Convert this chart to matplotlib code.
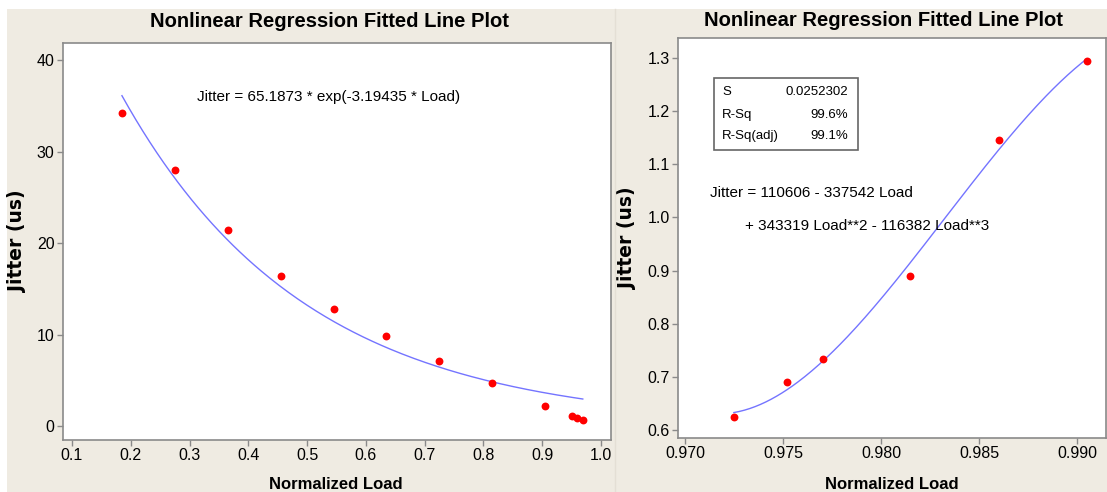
import numpy as np
import matplotlib
matplotlib.use("Agg")
import matplotlib.pyplot as plt
from matplotlib import font_manager
from matplotlib.patches import Rectangle

# exponential fit data (left)
load_a = [0.185, 0.275, 0.365, 0.455, 0.545, 0.635, 0.725, 0.815, 0.905, 0.950, 0.959, 0.969]
jitter_a = [34.2, 28.0, 21.4, 16.4, 12.8, 9.8, 7.1, 4.7, 2.2, 1.1, 0.9, 0.7]
exp_coef = (65.1873, -3.19435)

# cubic fit data (right)
load_b = [0.97249, 0.97520, 0.97702, 0.98148, 0.98600, 0.99051]
jitter_b = [0.625, 0.690, 0.734, 0.890, 1.145, 1.294]
stats_names = ["S", "R-Sq", "R-Sq(adj)"]
stats_values = ["0.0252302", "99.6%", "99.1%"]

title = "Nonlinear Regression Fitted Line Plot"
xticks_a = [0.1, 0.2, 0.3, 0.4, 0.5, 0.6, 0.7, 0.8, 0.9, 1.0]
yticks_a = [0, 10, 20, 30, 40]
xticks_b = [0.970, 0.975, 0.980, 0.985, 0.990]
yticks_b = [0.6, 0.7, 0.8, 0.9, 1.0, 1.1, 1.2, 1.3]

names = {f.name for f in font_manager.fontManager.ttflist}
narrow = "Liberation Sans Narrow" if "Liberation Sans Narrow" in names else "Liberation Sans"
plt.rcParams["font.family"] = [narrow, "DejaVu Sans"]

BG = "#efebe2"
FRAME = "#8a8a8a"
RED = "#ff0000"
LINE = "#7474ff"

fig = plt.figure(figsize=(11.07, 4.92), dpi=100)
W, H = 1107, 492
fig.patches.append(Rectangle((7 / W, 0), (615 - 7) / W, (H - 9) / H, transform=fig.transFigure,
                             facecolor=BG, edgecolor="none", zorder=-2))
fig.patches.append(Rectangle((615 / W, 0), (W - 615) / W, (H - 9) / H, transform=fig.transFigure,
                             facecolor=BG, edgecolor="none", zorder=-2))
fig.lines.append(plt.Line2D([615 / W, 615 / W], [0, (H - 9) / H], transform=fig.transFigure,
                            color="#e4dfd5", lw=1))

ax1 = fig.add_axes([63 / W, 52 / H, 548 / W, 397 / H])
ax2 = fig.add_axes([678 / W, 54 / H, 428 / W, 400 / H])


def style(ax):
    ax.set_facecolor("white")
    for s in ax.spines.values():
        s.set_color(FRAME)
        s.set_linewidth(1.2)
    ax.tick_params(direction="out", length=4, width=1, color=FRAME, labelsize=11.5, pad=2)


# left: exponential model
style(ax1)
ax1.scatter(load_a, jitter_a, s=32, color=RED, zorder=3, linewidths=0)
xa = np.linspace(min(load_a), max(load_a), 200)
ax1.plot(xa, exp_coef[0] * np.exp(exp_coef[1] * xa), color=LINE, lw=1)
ax1.set_xlim(0.0847, 1.017)
ax1.set_ylim(-1.53, 41.86)
ax1.set_xticks(xticks_a)
ax1.set_xticklabels([f"{v:.1f}" for v in xticks_a])
ax1.set_yticks(yticks_a)
ax1.set_yticklabels([str(v) for v in yticks_a])
ax1.text(0.487, 1.053, title, transform=ax1.transAxes, ha="center", va="center",
         fontsize=14.5, fontweight="bold")
ax1.text(0.2445, 0.864, "Jitter = 65.1873 * exp(-3.19435 * Load)", transform=ax1.transAxes,
         ha="left", va="center", fontsize=11)
ax1.set_ylabel("Jitter (us)", family="DejaVu Sans", fontweight="bold", fontsize=13.5)
ax1.yaxis.set_label_coords(-0.0657, 0.5)
ax1.set_xlabel("Normalized Load", fontweight="bold", fontsize=12)
ax1.xaxis.set_label_coords(0.498, -0.093)

# right: cubic model
style(ax2)
ax2.scatter(load_b, jitter_b, s=32, color=RED, zorder=3, linewidths=0)
x0 = 0.98
coef = np.polyfit(np.array(load_b) - x0, jitter_b, 3)
xb = np.linspace(min(load_b), max(load_b), 200)
ax2.plot(xb, np.polyval(coef, xb - x0), color=LINE, lw=1)
ax2.set_xlim(0.96964, 0.99148)
ax2.set_ylim(0.585, 1.3376)
ax2.set_xticks(xticks_b)
ax2.set_xticklabels([f"{v:.3f}" for v in xticks_b])
ax2.set_yticks(yticks_b)
ax2.set_yticklabels([f"{v:.1f}" for v in yticks_b])
ax2.text(0.481, 1.0425, title, transform=ax2.transAxes, ha="center", va="center",
         fontsize=14.5, fontweight="bold")
ax2.add_patch(Rectangle((0.0841, 0.72), 0.4206 - 0.0841, 0.18, transform=ax2.transAxes,
                        facecolor="white", edgecolor="#666666", lw=1.2, zorder=4))
for name, val, yy in zip(stats_names, stats_values, [0.865, 0.8075, 0.755]):
    ax2.text(0.103, yy, name, transform=ax2.transAxes, ha="left", va="center",
             fontsize=9.5, zorder=5)
    ax2.text(0.397, yy, val, transform=ax2.transAxes, ha="right", va="center",
             fontsize=9.5, zorder=5)
ax2.text(0.0748, 0.6125, "Jitter = 110606 - 337542 Load", transform=ax2.transAxes,
         ha="left", va="center", fontsize=11)
ax2.text(0.1565, 0.53, "+ 343319 Load**2 - 116382 Load**3", transform=ax2.transAxes,
         ha="left", va="center", fontsize=11)
ax2.set_ylabel("Jitter (us)", family="DejaVu Sans", fontweight="bold", fontsize=13.5)
ax2.yaxis.set_label_coords(-0.0958, 0.5)
ax2.set_xlabel("Normalized Load", fontweight="bold", fontsize=12)
ax2.xaxis.set_label_coords(0.5, -0.0975)

fig.savefig("out.png", dpi=100, facecolor="white")
